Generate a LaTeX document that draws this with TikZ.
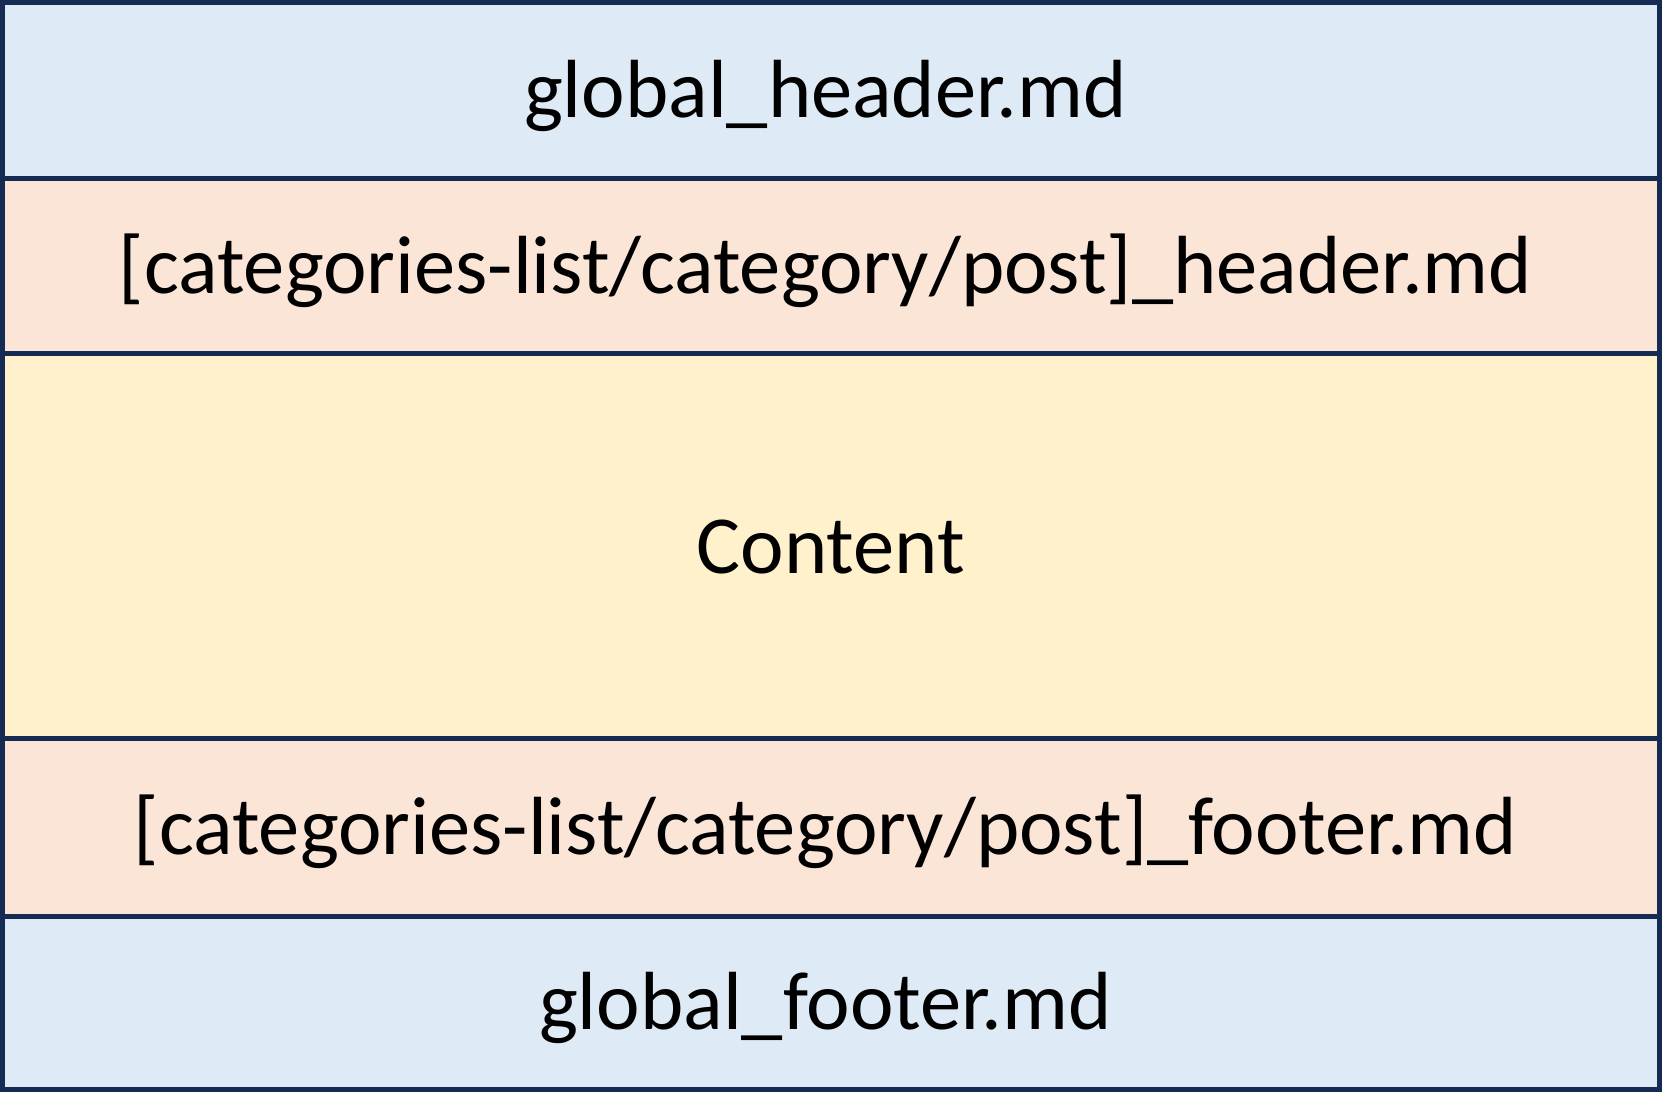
\documentclass[tikz,border=0pt]{standalone}
\usepackage{fontspec}
\setmainfont{Carlito}
\definecolor{bordercol}{HTML}{162B53}
\definecolor{bluefill}{HTML}{DEEAF6}
\definecolor{peachfill}{HTML}{FBE5D7}
\definecolor{yellowfill}{HTML}{FFF1CC}
\newcommand{\padright}{\kern11pt}
\begin{document}
\begin{tikzpicture}[x=1pt,y=-1pt,
  band/.style={draw=bordercol, line width=5pt, minimum width=1657pt, inner sep=0pt, outer sep=0pt,
    text height=54pt, text depth=0pt, font=\fontsize{82.5}{99}\selectfont, text=black}]
\useasboundingbox (0,0) rectangle (1662,1101);
\node[band, fill=bluefill, minimum height=176pt] (gh) at (831,90.5) {global\_header.md\padright};
\node[band, fill=peachfill, minimum height=175pt] (ch) at (831,266) {[categories-list/category/post]\_header.md\padright};
\node[band, fill=yellowfill, minimum height=385pt] (ct) at (831,546) {Content};
\node[band, fill=peachfill, minimum height=178pt] (cf) at (831,827.5) {[categories-list/category/post]\_footer.md\padright};
\node[band, fill=bluefill, minimum height=172.5pt] (gf) at (831,1002.75) {global\_footer.md\padright};
\end{tikzpicture}
\end{document}
